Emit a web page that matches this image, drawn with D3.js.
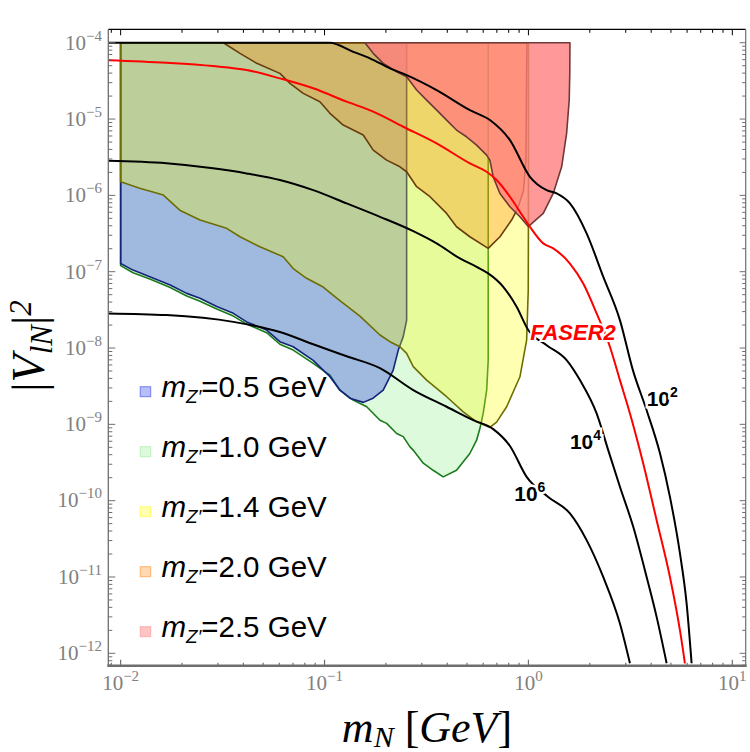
<!DOCTYPE html>
<meta charset="utf-8" />

<!-- Load d3.js -->
<script src="https://d3js.org/d3.v7.min.js"></script>
<style>
	body { margin: 0; background: #fff; }
</style>

<!-- Create a div where the graph will take place -->
<div id="my_dataviz"></div>

<script>
	// ---- values: [m_N (GeV), |V_lN|^2]
	var massLabels = ['0.5', '1.0', '1.4', '2.0', '2.5'];

	var regionZ05 = [
		[0.01, 1e-4], [0.01, 1.28e-7], [0.0115, 1.05e-7], [0.0139, 8.6e-8], [0.0175, 6.7e-8],
		[0.0211, 5.2e-8], [0.0245, 4.5e-8], [0.0296, 3.5e-8], [0.0357, 2.85e-8], [0.0415, 2.2e-8],
		[0.052, 1.72e-8], [0.0604, 1.21e-8], [0.0702, 1.04e-8], [0.088, 6.9e-9], [0.1063, 4.2e-9],
		[0.119, 2.8e-9], [0.133, 2.2e-9], [0.155, 1.94e-9], [0.173, 2.2e-9], [0.194, 2.8e-9],
		[0.217, 5.1e-9], [0.23, 9.4e-9], [0.243, 1.4e-8], [0.2527, 2.3e-8], [0.2527, 1e-4]
	];
	var regionZ10 = [
		[0.01, 1e-4], [0.01, 1.2e-7], [0.0115, 9.7e-8], [0.0139, 8.0e-8], [0.0175, 6.2e-8],
		[0.0211, 4.8e-8], [0.0245, 4.1e-8], [0.0296, 3.24e-8], [0.0357, 2.62e-8], [0.0415, 2.06e-8],
		[0.052, 1.59e-8], [0.0604, 1.12e-8], [0.0702, 9.4e-9], [0.088, 6.3e-9], [0.1063, 4.4e-9],
		[0.119, 2.8e-9], [0.138, 2.08e-9], [0.161, 1.7e-9], [0.187, 1.13e-9], [0.2016, 1.03e-9],
		[0.2257, 7.6e-10], [0.2432, 6.9e-10], [0.262, 5.1e-10], [0.272, 4.6e-10], [0.305, 3.1e-10],
		[0.341, 2.5e-10], [0.382, 2.05e-10], [0.444, 2.5e-10], [0.516, 4.15e-10], [0.557, 6.2e-10],
		[0.578, 8.8e-10], [0.6, 1.39e-9], [0.624, 2.8e-9], [0.635, 6.9e-9], [0.635, 1e-4]
	];
	var regionZ14 = [
		[0.01, 1e-4], [0.01, 1.51e-6], [0.0124, 1.24e-6], [0.0162, 1.01e-6], [0.0195, 6.4e-7],
		[0.0245, 4.75e-7], [0.0331, 3.7e-7], [0.0385, 2.87e-7], [0.0482, 2.12e-7], [0.0627, 1.57e-7],
		[0.0702, 1.1e-7], [0.0817, 8.2e-8], [0.0985, 6.3e-8], [0.1147, 4.5e-8], [0.1491, 2.62e-8],
		[0.187, 1.48e-8], [0.2093, 1.21e-8], [0.2343, 1.04e-8], [0.2527, 8.5e-9], [0.2723, 5.7e-9],
		[0.3167, 3.8e-9], [0.397, 2.3e-9], [0.479, 1.46e-9], [0.557, 1.08e-9], [0.647, 9.1e-10],
		[0.698, 1.07e-9], [0.782, 1.7e-9], [0.9085, 4.2e-9], [0.98, 1.27e-8], [0.998, 5.7e-8],
		[1.0, 4.3e-7], [1.0, 1e-4]
	];
	var regionZ20 = [
		[0.0319, 1e-4], [0.983, 1e-4], [0.972, 2.9e-6], [0.946, 1.17e-6], [0.888, 6.8e-7],
		[0.827, 4.75e-7], [0.725, 2.87e-7], [0.635, 2.02e-7], [0.516, 2.87e-7], [0.444, 3.88e-7],
		[0.397, 5.8e-7], [0.329, 9.6e-7], [0.283, 1.3e-6], [0.2527, 2.04e-6], [0.2343, 2.37e-6],
		[0.2016, 2.9e-6], [0.1733, 3.92e-6], [0.1548, 6.17e-6], [0.1235, 8.34e-6], [0.1063, 1.19e-5],
		[0.0949, 1.69e-5], [0.0786, 2.17e-5], [0.0677, 2.94e-5], [0.0604, 3.97e-5], [0.0465, 5.37e-5],
		[0.0385, 7.26e-5]
	];
	var regionZ25 = [
		[0.1578, 1e-4], [1.598, 1e-4], [1.595, 4e-5], [1.585, 1.77e-5], [1.539, 6.5e-6],
		[1.455, 2.37e-6], [1.323, 1.06e-6], [1.182, 5.8e-7], [0.998, 3.9e-7], [0.9085, 5.24e-7],
		[0.8116, 7.1e-7], [0.7248, 1.06e-6], [0.672, 1.75e-6], [0.647, 2.9e-6], [0.6237, 3.37e-6],
		[0.557, 4.56e-6], [0.497, 5.86e-6], [0.444, 7.18e-6], [0.397, 9.7e-6], [0.355, 1.31e-5],
		[0.3167, 1.77e-5], [0.283, 2.4e-5], [0.2527, 3.58e-5], [0.2257, 4.17e-5], [0.1941, 5.37e-5],
		[0.1733, 7.26e-5]
	];

	// decay length contours and FASER2 reach
	var curve1e2 = [
		[0.008, 1e-4], [0.106, 1e-4], [0.1383, 7.6e-5], [0.167, 6.25e-5], [0.2093, 4.62e-5],
		[0.2527, 3.77e-5], [0.3546, 2.4e-5], [0.5162, 1.31e-5], [0.6473, 9.7e-6], [0.8116, 5.3e-6],
		[1.017, 1.75e-6], [1.228, 1.17e-6], [1.375, 1.06e-6], [1.598, 7.85e-7], [1.929, 3.18e-7],
		[2.327, 8.6e-8], [2.81, 2.32e-8], [3.253, 5.13e-9], [3.799, 1.53e-9], [4.414, 4.2e-10],
		[4.943, 1.12e-10], [5.533, 2.05e-11], [5.967, 4.5e-12], [6.314, 7.4e-13]
	];
	var curve1e4 = [
		[0.008, 2.85e-6], [0.0168, 2.63e-6], [0.0284, 2.26e-6], [0.0415, 1.94e-6], [0.0604, 1.59e-6],
		[0.088, 1.17e-6], [0.1284, 7.85e-7], [0.187, 5.24e-7], [0.2723, 3.4e-7], [0.3546, 2.35e-7],
		[0.4613, 1.49e-7], [0.557, 1.16e-7], [0.635, 9.5e-8], [0.7524, 6.34e-8], [0.8752, 3.47e-8],
		[0.998, 1.72e-8], [1.228, 1.09e-8], [1.539, 6.94e-9], [1.789, 3.8e-9], [2.16, 1.39e-9],
		[2.462, 4.6e-10], [2.81, 1.52e-10], [3.266, 4.54e-11], [3.799, 1.0e-11], [4.253, 3.0e-12],
		[4.762, 7.4e-13]
	];
	var curve1e6 = [
		[0.008, 2.85e-8], [0.0168, 2.7e-8], [0.0357, 2.2e-8], [0.0604, 1.62e-8], [0.088, 1.12e-8],
		[0.1284, 7.8e-9], [0.187, 5.45e-9], [0.2723, 2.81e-9], [0.397, 1.7e-9], [0.536, 1.135e-9],
		[0.672, 8.65e-10], [0.8116, 5.2e-10], [0.98, 2.05e-10], [1.25, 1.12e-10], [1.598, 6.8e-11],
		[1.929, 3.04e-11], [2.327, 1.0e-11], [2.81, 2.46e-12], [3.147, 7.4e-13]
	];
	var faser2 = [
		[0.008, 5.95e-5], [0.0168, 5.47e-5], [0.0284, 4.95e-5], [0.0415, 4.39e-5], [0.0604, 3.41e-5],
		[0.088, 2.53e-5], [0.1284, 1.69e-5], [0.1733, 1.25e-5], [0.2432, 7.93e-6], [0.3546, 4.8e-6],
		[0.5162, 2.63e-6], [0.6237, 2.04e-6], [0.698, 1.59e-6], [0.8116, 9.6e-7], [0.9428, 5.24e-7],
		[1.017, 3.88e-7], [1.182, 2.35e-7], [1.323, 2.02e-7], [1.598, 1.28e-7], [1.857, 7.0e-8],
		[2.16, 2.84e-8], [2.51, 1.04e-8], [2.81, 3.8e-9], [3.147, 1.39e-9], [3.656, 3.07e-10],
		[4.253, 5.55e-11], [4.943, 1.0e-11], [5.533, 2.01e-12], [5.854, 7.4e-13]
	];

	// contour label exponents with their anchor points on the plot
	var contourExps = ['2', '4', '6'];
	var contourAt = [[3.8, 1.75e-9], [1.598, 4.7e-10], [0.852, 1.0e-10]];
	var faserAt = [1.02, 1.27e-8];

	// tick label exponents
	var xTickExps = [-2, -1, 0, 1];
	var yTickExps = [-12, -11, -10, -9, -8, -7, -6, -5, -4];

	// ---- styles
	var fills = ['rgb(20,40,230)', '#90ee90', '#ffff00', '#ff8000', '#ff7d7d'];
	var fillOp = [0.3, 0.3, 0.3, 0.3, 0.79];
	var edges = ['#14237a', '#1b7a1b', '#6e6e00', '#6a3c0c', '#703838'];

	// set the dimensions of the graph
	var width = 750,
		height = 752;
	var plotLeft = 108.3,
		plotRight = 745.7,
		plotTop = 29.3,
		plotBottom = 665.7;

	var svg = d3
		.select('#my_dataviz')
		.append('svg')
		.attr('width', width)
		.attr('height', height);

	var x = d3.scaleLog().domain([0.0087, 11.63]).range([plotLeft, plotRight]);
	var y = d3.scaleLog().domain([6.88e-13, 1.5e-4]).range([plotBottom, plotTop]);

	svg
		.append('defs')
		.append('clipPath')
		.attr('id', 'plotclip')
		.append('rect')
		.attr('x', plotLeft)
		.attr('y', plotTop)
		.attr('width', plotRight - plotLeft)
		.attr('height', plotBottom - plotTop);

	var plot = svg.append('g').attr('clip-path', 'url(#plotclip)');

	// shaded regions, drawn in the original overlay order
	var area = d3
		.line()
		.x(function (d) { return x(d[0]); })
		.y(function (d) { return y(d[1]); })
		.curve(d3.curveLinearClosed);

	var regions = [regionZ10, regionZ05, regionZ14, regionZ20, regionZ25];
	var regionIdx = [1, 0, 2, 3, 4];
	regions.forEach(function (r, j) {
		var i = regionIdx[j];
		plot
			.append('path')
			.attr('d', area(r))
			.attr('fill', fills[i])
			.attr('fill-opacity', fillOp[i])
			.attr('stroke', edges[i])
			.attr('stroke-width', 1.6)
			.attr('stroke-linejoin', 'round');
	});

	// contours
	var line = d3
		.line()
		.x(function (d) { return x(d[0]); })
		.y(function (d) { return y(d[1]); })
		.curve(d3.curveMonotoneX);

	[curve1e6, curve1e4, curve1e2].forEach(function (c) {
		plot
			.append('path')
			.attr('d', line(c))
			.attr('fill', 'none')
			.attr('stroke', 'black')
			.attr('stroke-width', 2);
	});
	plot
		.append('path')
		.attr('d', line(faser2))
		.attr('fill', 'none')
		.attr('stroke', '#ff0000')
		.attr('stroke-width', 2);

	// contour labels (white halo hides the line under them)
	contourExps.forEach(function (e, i) {
		var t = svg
			.append('text')
			.attr('x', x(contourAt[i][0]))
			.attr('y', y(contourAt[i][1]))
			.style('font-family', 'Liberation Sans, Arial, sans-serif')
			.style('font-weight', 'bold')
			.style('font-size', '21px')
			.attr('stroke', 'white')
			.attr('stroke-width', 5)
			.attr('paint-order', 'stroke');
		t.append('tspan').text('10');
		t.append('tspan').attr('dy', -9).style('font-size', '14px').text(e);
	});

	svg
		.append('text')
		.attr('x', x(faserAt[0]))
		.attr('y', y(faserAt[1]))
		.style('font-family', 'Liberation Sans, Arial, sans-serif')
		.style('font-weight', 'bold')
		.style('font-style', 'italic')
		.style('font-size', '22px')
		.attr('fill', '#ff0000')
		.attr('stroke', 'white')
		.attr('stroke-width', 4)
		.attr('paint-order', 'stroke')
		.text('FASER2');

	// ---- frame and ticks
	var gray = '#6e6e6e';
	var xTicks = [],
		yTicks = [];
	for (var e = -3; e <= 1; e++)
		for (var k = 1; k <= 9; k++) {
			var v = k * Math.pow(10, e);
			if (v >= 0.0087 && v <= 11.63) xTicks.push({ v: v, major: k === 1 });
		}
	for (var e2 = -13; e2 <= -4; e2++)
		for (var k2 = 1; k2 <= 9; k2++) {
			var v2 = k2 * Math.pow(10, e2);
			if (v2 >= 6.88e-13 && v2 <= 1.5e-4) yTicks.push({ v: v2, major: k2 === 1 });
		}

	var frame = svg.append('g');
	// top (black)
	frame.append('line').attr('x1', plotLeft).attr('x2', plotRight).attr('y1', plotTop).attr('y2', plotTop)
		.attr('stroke', 'black').attr('stroke-width', 1.2);
	xTicks.forEach(function (t) {
		frame.append('line').attr('x1', x(t.v)).attr('x2', x(t.v))
			.attr('y1', plotTop).attr('y2', plotTop + (t.major ? 6 : 3.5))
			.attr('stroke', 'black').attr('stroke-width', 1);
	});
	// right
	frame.append('line').attr('x1', plotRight).attr('x2', plotRight).attr('y1', plotTop).attr('y2', plotBottom)
		.attr('stroke', gray).attr('stroke-width', 1.2);
	yTicks.forEach(function (t) {
		frame.append('line').attr('x1', plotRight).attr('x2', plotRight - (t.major ? 6 : 3.5))
			.attr('y1', y(t.v)).attr('y2', y(t.v))
			.attr('stroke', gray).attr('stroke-width', 1);
	});
	// left
	frame.append('line').attr('x1', plotLeft).attr('x2', plotLeft).attr('y1', plotTop).attr('y2', plotBottom)
		.attr('stroke', gray).attr('stroke-width', 1.3);
	yTicks.forEach(function (t) {
		frame.append('line').attr('x1', plotLeft).attr('x2', plotLeft + (t.major ? 7 : 4))
			.attr('y1', y(t.v)).attr('y2', y(t.v))
			.attr('stroke', gray).attr('stroke-width', 1);
	});
	// bottom (thick axis)
	xTicks.forEach(function (t) {
		frame.append('line').attr('x1', x(t.v)).attr('x2', x(t.v))
			.attr('y1', plotBottom).attr('y2', plotBottom - (t.major ? 6 : 3))
			.attr('stroke', gray).attr('stroke-width', 1.2);
	});
	frame.append('line').attr('x1', plotLeft - 1).attr('x2', plotRight + 1).attr('y1', plotBottom).attr('y2', plotBottom)
		.attr('stroke', gray).attr('stroke-width', 2.6);

	// tick labels
	var serif = 'Liberation Serif, Times New Roman, serif';
	xTickExps.forEach(function (e) {
		var t = svg.append('text')
			.attr('x', x(Math.pow(10, e)))
			.attr('y', 690)
			.attr('text-anchor', 'middle')
			.attr('fill', '#808080')
			.style('font-family', serif)
			.style('font-size', '21px');
		t.append('tspan').text('10');
		t.append('tspan').attr('dy', -9).style('font-size', '15px').text(String(e).replace('-', '\u2212'));
	});
	yTickExps.forEach(function (e) {
		var t = svg.append('text')
			.attr('x', 102)
			.attr('y', y(Math.pow(10, e)) + 6.8)
			.attr('text-anchor', 'end')
			.attr('fill', '#808080')
			.style('font-family', serif)
			.style('font-size', '21px');
		t.append('tspan').text('10');
		t.append('tspan').attr('dy', -9).style('font-size', '15px').text(String(e).replace('-', '\u2212'));
	});

	// X label
	var xl = svg.append('text')
		.attr('x', 427)
		.attr('y', 742)
		.attr('text-anchor', 'middle')
		.style('font-family', serif)
		.style('font-size', '44px');
	xl.append('tspan').style('font-style', 'italic').text('m');
	xl.append('tspan').attr('dy', 5).style('font-style', 'italic').style('font-size', '30px').text('N');
	xl.append('tspan').attr('dy', -5).text(' [');
	xl.append('tspan').style('font-style', 'italic').text('GeV');
	xl.append('tspan').text(']');

	// Y label
	var yl = svg.append('text')
		.attr('text-anchor', 'middle')
		.attr('transform', 'translate(44, 346)rotate(-90)')
		.style('font-family', serif)
		.style('font-size', '46px');
	yl.append('tspan').text('|');
	yl.append('tspan').style('font-style', 'italic').text('V');
	yl.append('tspan').attr('dy', 8).style('font-style', 'italic').style('font-size', '31px').text('lN');
	yl.append('tspan').attr('dy', -8).text('|');
	yl.append('tspan').attr('dy', -13).style('font-style', 'italic').style('font-size', '31px').text('2');

	// legend
	var sans = 'Liberation Sans, Arial, sans-serif';
	massLabels.forEach(function (m, i) {
		var ly = 386.7 + 60 * i;
		svg.append('rect')
			.attr('x', 140.2).attr('y', ly).attr('width', 10.5).attr('height', 10)
			.attr('fill', fills[i]).attr('fill-opacity', i === 4 ? 0.45 : 0.3)
			.attr('stroke', fills[i]).attr('stroke-opacity', 0.5).attr('stroke-width', 1);
		var t = svg.append('text')
			.attr('x', 161.5)
			.attr('y', ly + 10.6)
			.style('font-family', sans)
			.style('font-size', '29.5px');
		t.append('tspan').style('font-style', 'italic').text('m');
		t.append('tspan').attr('dy', 6).style('font-style', 'italic').style('font-size', '19px').text('Z\u2032');
		t.append('tspan').attr('dy', -6).text('=' + m + ' GeV');
	});
</script>
